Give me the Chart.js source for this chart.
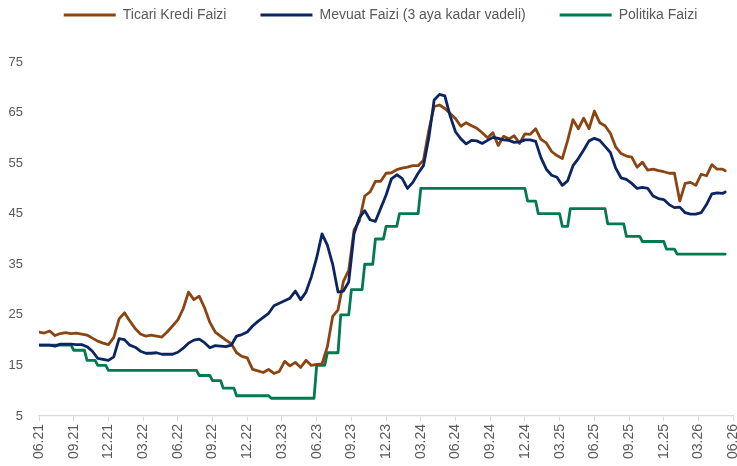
<!DOCTYPE html>
<html>
<head>
<meta charset="utf-8">
<script src="https://cdn.jsdelivr.net/npm/chart.js@4.4.1/dist/chart.umd.min.js"></script>
<style>
  html, body { margin: 0; padding: 0; background: #ffffff; overflow: hidden; width: 737px; height: 466px; }
  #wrap { position: absolute; left: 0; top: -26px; width: 753px; height: 492px; }
</style>
</head>
<body>
<div id="wrap"><canvas id="c"></canvas></div>
<script>
// Weeks counted from the first observation (June 2021), one tick label per quarter
const weeks = [0,2,4,6,8,10,12,14,16,18,20,22,24,26,28,30,32,34,36,38,40,42,44,46,48,50,52,54,56,58,
  60,62,64,66,68,70,72,74,76,78,80,82,84,86,88,90,92,94,96,98,100,102,104,106,108,110,112,114,116,118,
  120,122,124,126,128,130,132,134,136,138,140,142,144,146,148,150,152,154,156,158,160,162,164,166,168,170,172,174,176,178,
  180,182,184,186,188,190,192,194,196,198,200,202,204,206,208,210,212,214,216,218,220,222,224,226,228,230,232,234,236,238,
  240,242,244,246,248,250,252,254,256,257];

const tickLabels = ["06.21","09.21","12.21","03.22","06.22","09.22","12.22","03.23","06.23","09.23","12.23",
  "03.24","06.24","09.24","12.24","03.25","06.25","09.25","12.25","03.26","06.26"];

const ticariKredi = [
  21.6,21.4,21.8,20.9,21.3,21.5,21.3,21.4,21.2,21.0,
  20.4,19.8,19.4,19.1,20.5,24.2,25.4,23.8,22.3,21.2,
  20.8,21.0,20.8,20.6,21.6,22.8,24.0,26.2,29.5,28.0,
  28.7,26.4,23.5,21.6,20.8,20.0,19.3,17.5,16.8,16.5,
  14.2,13.9,13.6,14.2,13.4,13.8,15.8,14.9,15.6,14.6,
  16.0,15.0,15.2,15.3,18.7,24.7,26.0,31.6,33.8,41.8,
  43.6,48.5,49.3,51.4,51.4,53.0,53.1,53.7,54.0,54.2,
  54.5,54.5,55.6,61.5,66.2,66.5,65.8,64.8,63.8,62.3,
  63.0,62.4,61.9,61.0,60.0,61.0,58.5,60.3,59.8,60.4,
  58.9,60.8,60.7,61.8,59.7,59.0,57.3,56.5,55.9,59.5,
  63.6,61.8,63.9,61.8,65.3,63.0,62.4,60.9,58.2,56.9,
  56.4,56.2,54.2,55.2,53.6,53.8,53.5,53.3,53.0,53.0,
  47.5,51.0,51.2,50.6,52.8,52.5,54.7,53.8,53.8,53.5];

const mevduat = [
  19.0,19.0,19.0,18.8,19.2,19.2,19.2,19.1,19.1,18.7,
  17.8,16.4,16.2,16.0,16.7,20.3,20.1,19.0,18.6,17.8,
  17.4,17.4,17.5,17.2,17.2,17.2,17.6,18.4,19.4,20.0,
  20.2,19.5,18.5,18.9,18.8,18.7,19.0,20.8,21.1,21.6,
  22.8,23.7,24.5,25.3,26.8,27.3,27.8,28.3,29.7,28.0,
  29.5,32.5,36.3,41.0,38.8,35.0,29.5,29.7,31.5,41.0,
  44.2,45.6,43.8,43.5,46.1,48.7,51.9,52.7,52.0,50.0,
  51.2,53.0,54.5,60.0,67.5,68.6,68.3,64.3,61.2,59.8,
  58.8,59.5,59.4,58.9,59.5,60.1,59.9,59.6,59.5,59.1,
  59.2,59.6,59.6,59.3,56.1,53.8,52.6,52.2,50.6,51.5,
  54.5,55.9,57.6,59.4,59.9,59.5,58.3,57.1,54.0,52.1,
  51.8,51.0,50.0,50.2,50.0,48.5,48.0,47.8,46.8,46.2,
  46.3,45.2,44.9,44.9,45.2,46.8,48.9,49.1,49.0,49.3];

const policyWeeks = [0,12,13,17,18,21,22,25,26,59,60,64,65,68,69,73,74,86,87,103,104,107,108,112,113,116,117,121,122,125,126,129,130,134,135,142,143,182,183,186,187,195,196,198,199,212,213,219,220,225,226,234,235,238,239,257];
const policyRate = [19,19,18,18,16,16,15,15,14,14,13,13,12,12,10.5,10.5,9,9,8.5,8.5,15,15,17.5,17.5,25,25,30,30,35,35,40,40,42.5,42.5,45,45,50,50,47.5,47.5,45,45,42.5,42.5,46,46,43,43,40.5,40.5,39.5,39.5,38,38,37,37];

const seriesNames = ["Ticari Kredi Faizi", "Mevuat Faizi (3 aya kadar vadeli)", "Politika Faizi"];
const seriesColors = ["#8b4513", "#0b2462", "#007a4e"];

const pts = (xs, ys) => ys.map((v, i) => ({ x: xs[i], y: v }));
const FONT = "'Liberation Sans', Arial, sans-serif";
const GREY = "#595959";

new Chart(document.getElementById('c'), {
  type: 'line',
  data: {
    datasets: [
      { label: seriesNames[0], data: pts(weeks, ticariKredi), borderColor: seriesColors[0], backgroundColor: seriesColors[0], order: 1 },
      { label: seriesNames[1], data: pts(weeks, mevduat), borderColor: seriesColors[1], backgroundColor: seriesColors[1], order: 0 },
      { label: seriesNames[2], data: pts(policyWeeks, policyRate), borderColor: seriesColors[2], backgroundColor: seriesColors[2], order: 2 }
    ]
  },
  options: {
    responsive: true,
    maintainAspectRatio: false,
    animation: false,
    events: [],
    layout: { padding: { left: 8, right: 0, top: 0, bottom: 4 } },
    elements: {
      line: { borderWidth: 2.8, tension: 0, borderJoinStyle: 'round', borderCapStyle: 'round' },
      point: { radius: 0 }
    },
    plugins: {
      tooltip: { enabled: false },
      title: { display: true, text: '', weight: 500, position: 'top', font: { size: 10, lineHeight: 1 }, padding: { top: 20, bottom: 0 } },
      legend: {
        position: 'top',
        align: 'center',
        labels: {
          color: GREY,
          font: { family: FONT, size: 14 },
          boxWidth: 52,
          boxHeight: 3,
          padding: 34,
          sort: (a, b) => a.datasetIndex - b.datasetIndex,
          generateLabels: (chart) => chart.data.datasets.map((ds, i) => ({
            text: ds.label, fillStyle: ds.borderColor, strokeStyle: ds.borderColor,
            lineWidth: 0, hidden: false, datasetIndex: i, fontColor: GREY
          }))
        }
      }
    },
    scales: {
      x: {
        type: 'linear',
        min: 0,
        max: 260,
        afterBuildTicks: (axis) => { axis.ticks = tickLabels.map((_, i) => ({ value: i * 13 })); },
        ticks: {
          autoSkip: false,
          maxRotation: 90,
          minRotation: 90,
          color: GREY,
          font: { family: FONT, size: 14 },
          padding: 3,
          callback: (value, index) => tickLabels[index]
        },
        grid: { display: true, drawOnChartArea: false, drawTicks: true, tickLength: 5, color: '#d9d9d9', lineWidth: 1 },
        border: { display: true, color: '#d9d9d9', width: 1.3 }
      },
      y: {
        min: 5,
        max: 75,
        afterFit: (scale) => { scale.width = 31; },
        ticks: { stepSize: 10, color: GREY, font: { family: FONT, size: 13 }, padding: 16 },
        grid: { display: false, drawTicks: false },
        border: { display: false }
      }
    }
  }
});
</script>
</body>
</html>
